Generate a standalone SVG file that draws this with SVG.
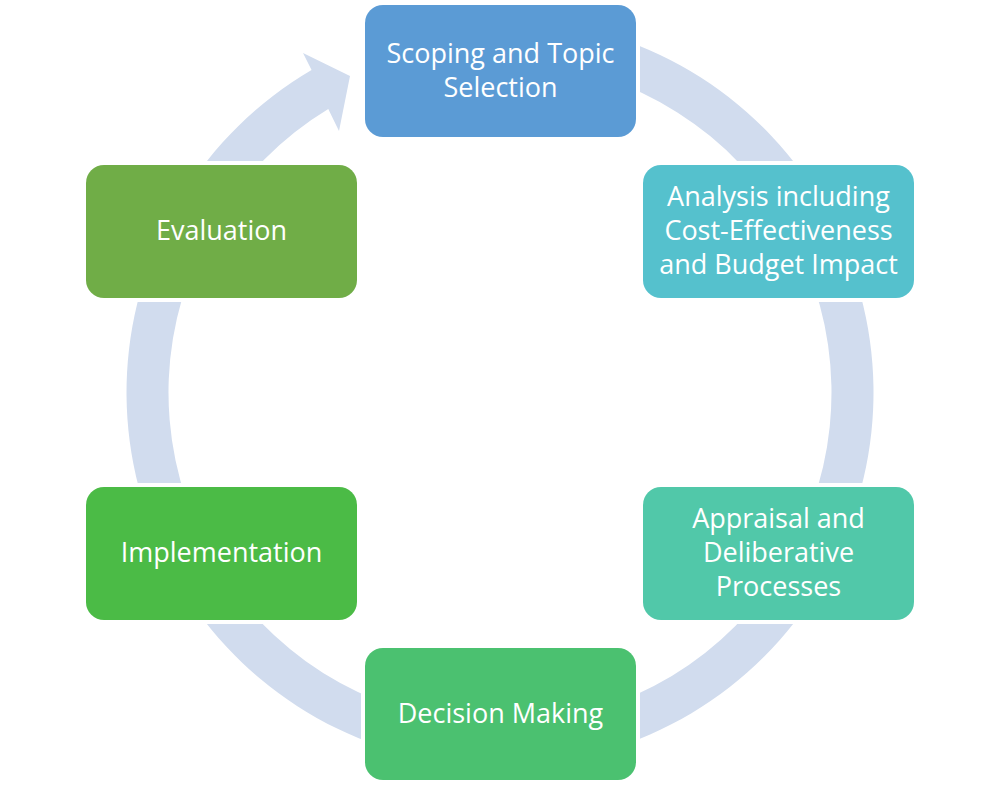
<svg xmlns="http://www.w3.org/2000/svg" width="1000" height="785" viewBox="0 0 1000 785">
  <style>
    .node rect { stroke: none; }
    .label { font-family: "Open Sans", "Liberation Sans", sans-serif; font-size: 27px; fill: #FFFFFF; text-anchor: middle; }
    .ring { fill: #D1DCEE; stroke: none; }
  </style>
  <defs>
    <mask id="gapMask" maskUnits="userSpaceOnUse" x="0" y="0" width="1000" height="785">
      <rect x="0" y="0" width="1000" height="785" fill="#FFFFFF"/>
      <rect x="361" y="1" width="279" height="140" rx="22" fill="#000000"/>
      <rect x="639" y="161" width="279" height="141" rx="22" fill="#000000"/>
      <rect x="639" y="483" width="279" height="141" rx="22" fill="#000000"/>
      <rect x="361" y="644" width="279" height="140" rx="22" fill="#000000"/>
      <rect x="82" y="483" width="279" height="141" rx="22" fill="#000000"/>
      <rect x="82" y="161" width="279" height="141" rx="22" fill="#000000"/>
    </mask>
  </defs>
  <rect x="0" y="0" width="1000" height="785" fill="#FFFFFF"/>
  <g id="connectors">
    <path class="ring" mask="url(#gapMask)" d="M 435.14 24.67 A 373.5 373.5 0 1 1 311.56 70.02 L 303 53 L 350 76 L 339 131 L 328.27 108.95 A 331.5 331.5 0 1 0 442.43 66.04 Z"/>
  </g>
  <g id="node-scoping" class="node">
    <rect x="365" y="5" width="271" height="132" rx="18" fill="#5B9BD5"/>
    <text class="label" x="500.5" y="63">Scoping and Topic</text>
    <text class="label" x="500.5" y="97">Selection</text>
  </g>
  <g id="node-analysis" class="node">
    <rect x="643" y="165" width="271" height="133" rx="18" fill="#55C1CD"/>
    <text class="label" x="778.5" y="206">Analysis including</text>
    <text class="label" x="778.5" y="240">Cost-Effectiveness</text>
    <text class="label" x="778.5" y="274">and Budget Impact</text>
  </g>
  <g id="node-appraisal" class="node">
    <rect x="643" y="487" width="271" height="133" rx="18" fill="#51C8A9"/>
    <text class="label" x="778.5" y="528">Appraisal and</text>
    <text class="label" x="778.5" y="562">Deliberative</text>
    <text class="label" x="778.5" y="596">Processes</text>
  </g>
  <g id="node-decision" class="node">
    <rect x="365" y="648" width="271" height="132" rx="18" fill="#4BC170"/>
    <text class="label" x="500.5" y="723">Decision Making</text>
  </g>
  <g id="node-implementation" class="node">
    <rect x="86" y="487" width="271" height="133" rx="18" fill="#4BBB46"/>
    <text class="label" x="221.5" y="562">Implementation</text>
  </g>
  <g id="node-evaluation" class="node">
    <rect x="86" y="165" width="271" height="133" rx="18" fill="#70AD47"/>
    <text class="label" x="221.5" y="240">Evaluation</text>
  </g>
</svg>
